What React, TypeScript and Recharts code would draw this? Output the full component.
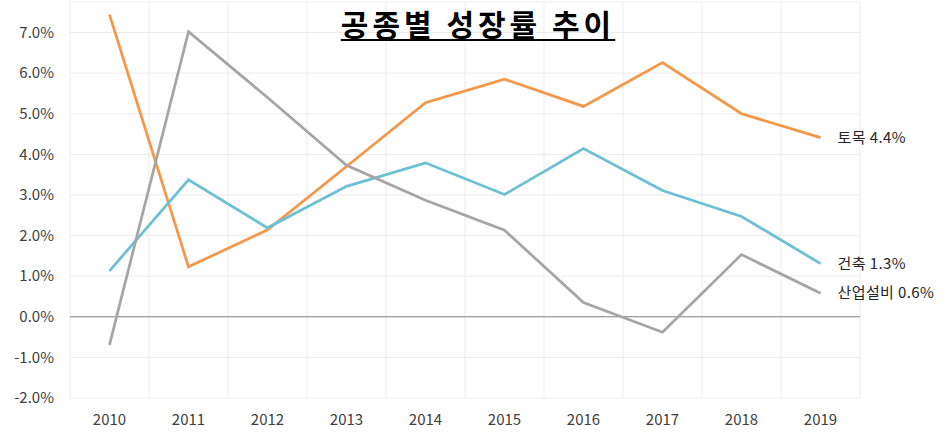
import React from 'react';
import { LineChart, Line, XAxis, YAxis, CartesianGrid, ReferenceLine } from 'recharts';

const years = ['2010', '2011', '2012', '2013', '2014', '2015', '2016', '2017', '2018', '2019'];
const civil = [7.44, 1.23, 2.14, 3.7, 5.27, 5.85, 5.18, 6.26, 5.0, 4.41];
const building = [1.13, 3.37, 2.19, 3.21, 3.79, 3.01, 4.14, 3.11, 2.47, 1.31];
const plant = [-0.69, 7.02, 5.4, 3.73, 2.87, 2.13, 0.35, -0.38, 1.53, 0.58];
const yTicks = [-2, -1, 0, 1, 2, 3, 4, 5, 6, 7];

const series = [
  { key: 'civil', name: '토목', color: '#f79646', values: civil },
  { key: 'building', name: '건축', color: '#6cbfd4', values: building },
  { key: 'plant', name: '산업설비', color: '#a5a5a5', values: plant },
];

const data = years.map((year, i) => ({
  year,
  civil: civil[i],
  building: building[i],
  plant: plant[i],
}));

const FONT = '"Noto Sans CJK KR", "Noto Sans", sans-serif';

function endLabel(name: string) {
  return (props: any) => {
    const { x, y, index, value } = props;
    if (index !== years.length - 1) return null;
    return (
      <text x={x + 17} y={y} dy="0.35em" fontSize={15} letterSpacing={0.4} fontFamily={FONT} fill="#262626">
        {`${name} ${Number(value).toFixed(1)}%`}
      </text>
    );
  };
}

export default function App() {
  return (
    <div style={{ position: 'absolute', left: 0, top: 0, width: 948, height: 433, background: '#fff' }}>
      <LineChart
        width={948}
        height={433}
        data={data}
        margin={{ top: 2, right: 88, left: 0, bottom: 0 }}
      >
        <CartesianGrid
          stroke="#ececec"
          verticalCoordinatesGenerator={({ offset }: any) =>
            years.concat(['']).map((_, i) => offset.left + (i * offset.width) / years.length)
          }
        />
        <XAxis
          dataKey="year"
          axisLine={false}
          tickLine={false}
          height={35}
          tickMargin={10}
          padding={{ left: 39.5, right: 39.5 }}
          tick={{ fontSize: 15, fontFamily: FONT, fill: '#404040' }}
        />
        <YAxis
          width={70}
          domain={[-2, 7.75]}
          ticks={yTicks}
          axisLine={false}
          tickLine={false}
          tickMargin={10}
          tickFormatter={(v) => `${Number(v).toFixed(1)}%`}
          tick={{ fontSize: 15, fontFamily: FONT, fill: '#404040' }}
        />
        <ReferenceLine y={0} stroke="#868686" strokeWidth={1} />
        {series.map((s) => (
          <Line
            key={s.key}
            dataKey={s.key}
            stroke={s.color}
            strokeWidth={2.75}
            dot={false}
            type="linear"
            isAnimationActive={false}
            label={endLabel(s.name)}
          />
        ))}
      </LineChart>
      <div
        style={{
          position: 'absolute',
          left: 0,
          width: 956,
          top: 1,
          textAlign: 'center',
          fontFamily: FONT,
          fontWeight: 700,
          fontSize: 30,
          letterSpacing: 4,
          textDecoration: 'underline',
          textDecorationThickness: 2,
          textUnderlineOffset: 3,
          color: '#000',
        }}
      >
        공종별 성장률 추이
      </div>
    </div>
  );
}
